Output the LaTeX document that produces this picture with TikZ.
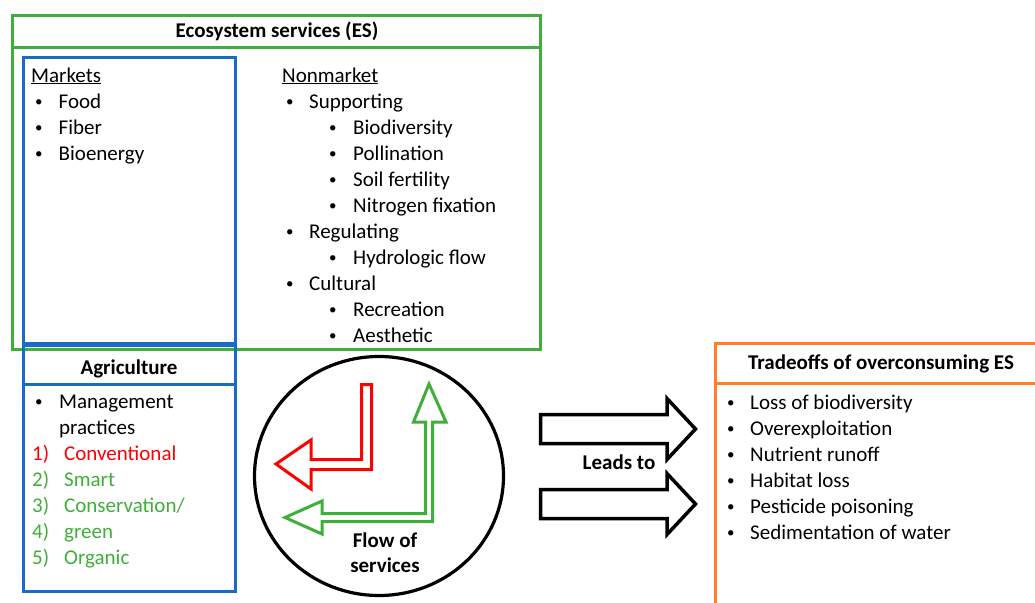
\documentclass[tikz,border=0pt]{standalone}
\usepackage{fontspec}
\setmainfont{Carlito}
\usetikzlibrary{shapes.geometric}

\definecolor{esgreen}{RGB}{64,174,58}
\definecolor{agblue}{RGB}{22,110,196}
\definecolor{tradeorange}{RGB}{255,127,39}
\definecolor{convred}{RGB}{255,0,0}

\begin{document}
\begin{tikzpicture}[x=1pt, y=-1pt,
    font=\fontsize{21}{26}\selectfont,
    txt/.style={anchor=base west, inner sep=0pt},
    bul/.style={anchor=base west, inner sep=0pt, font=\fontsize{15}{26}\selectfont, yshift=2pt},
    head/.style={anchor=base, inner sep=0pt, font=\fontsize{21}{26}\selectfont\bfseries},
    frame/.style={line width=3pt},
    flowarrow/.style={line width=3pt, line join=miter},
    bigarrow/.style={line width=3.5pt, line join=miter}]
	\useasboundingbox (0,0) rectangle (1035,602);
	\clip (0,0) rectangle (1035,602);

	% Frames
	\draw[frame, esgreen] (12,15.5) rectangle (540.5,349);
	\draw[frame, esgreen] (12,47.5) -- (540.5,47.5);
	\draw[frame, agblue] (23.5,58) rectangle (235,343);
	\draw[frame, agblue] (23.5,345.5) rectangle (235,591);
	\draw[frame, agblue] (23.5,384.5) -- (235,384.5);
	\draw[frame, tradeorange] (715.5,610) |- (1040,343.5);
	\draw[frame, tradeorange] (715.5,383.5) -- (1040,383.5);

	% Ecosystem services
	\node[head] (es) at (277,37.5) {Ecosystem services (ES)};
	\node[txt] (mk) at (31,82) {\underline{Markets}};
	\node[bul] (mkb1) at (35,108) {•};
	\node[txt] (mk1) at (58.5,108) {Food};
	\node[bul] (mkb2) at (35,134) {•};
	\node[txt] (mk2) at (58.5,134) {Fiber};
	\node[bul] (mkb3) at (35,160) {•};
	\node[txt] (mk3) at (58.5,160) {Bioenergy};

	\node[txt] (nm) at (282,82) {\underline{Nonmarket}};
	\node[bul] (nmb1) at (286,108) {•};
	\node[txt] (nm1) at (309,108) {Supporting};
	\node[bul] (nmb11) at (329,134) {•};
	\node[txt] (nm11) at (353,134) {Biodiversity};
	\node[bul] (nmb12) at (329,160) {•};
	\node[txt] (nm12) at (353,160) {Pollination};
	\node[bul] (nmb13) at (329,186) {•};
	\node[txt] (nm13) at (353,186) {Soil fertility};
	\node[bul] (nmb14) at (329,212) {•};
	\node[txt] (nm14) at (353,212) {Nitrogen fixation};
	\node[bul] (nmb2) at (286,238) {•};
	\node[txt] (nm2) at (309,238) {Regulating};
	\node[bul] (nmb21) at (329,264) {•};
	\node[txt] (nm21) at (353,264) {Hydrologic flow};
	\node[bul] (nmb3) at (286,290) {•};
	\node[txt] (nm3) at (309,290) {Cultural};
	\node[bul] (nmb31) at (329,316) {•};
	\node[txt] (nm31) at (353,316) {Recreation};
	\node[bul] (nmb32) at (329,342) {•};
	\node[txt] (nm32) at (353,342) {Aesthetic};

	% Agriculture
	\node[head] (ag) at (129,374) {Agriculture};
	\node[bul] (agb) at (35,408) {•};
	\node[txt] (ag0) at (59,408) {Management};
	\node[txt] (ag0b) at (59,434) {practices};
	\node[txt, text=convred] (agn1) at (32,460) {1)};
	\node[txt, text=convred] (ag1) at (64,460) {Conventional};
	\node[txt, text=esgreen] (agn2) at (32,486) {2)};
	\node[txt, text=esgreen] (ag2) at (64,486) {Smart};
	\node[txt, text=esgreen] (agn3) at (32,512) {3)};
	\node[txt, text=esgreen] (ag3) at (64,512) {Conservation/};
	\node[txt, text=esgreen] (agn4) at (32,538) {4)};
	\node[txt, text=esgreen] (ag4) at (64,538) {green};
	\node[txt, text=esgreen] (agn5) at (32,564) {5)};
	\node[txt, text=esgreen] (ag5) at (64,564) {Organic};

	% Flow of services
	\node[draw, ellipse, line width=3.2pt, minimum width=249, minimum height=239, inner sep=0pt] (flow) at (379,476) {};
	\draw[flowarrow, convred] (371.5,384.5) -- (371.5,469.5) -- (311,469.5) -- (311,489)
		-- (276,464) -- (311,440) -- (311,459.5) -- (361.5,459.5) -- (361.5,384.5) -- cycle;
	\draw[flowarrow, esgreen] (425.5,422) -- (413.5,422) -- (429,384) -- (446,422) -- (432.5,422)
		-- (432.5,521.5) -- (322,521.5) -- (322,534) -- (285,517.5) -- (322,501)
		-- (322,513.5) -- (425.5,513.5) -- cycle;
	\node[head] (flowa) at (385,547) {Flow of};
	\node[head] (flowb) at (385,572) {services};

	% Leads to
	\draw[bigarrow] (540.5,414.5) -- (667,414.5) -- (667,398.5) -- (695.5,429)
		-- (667,459.5) -- (667,443.5) -- (540.5,443.5) -- cycle;
	\draw[bigarrow] (540.5,489.5) -- (667,489.5) -- (667,473.5) -- (695.5,504)
		-- (667,534.5) -- (667,518.5) -- (540.5,518.5) -- cycle;
	\node[head] (leads) at (619,469) {Leads to};

	% Tradeoffs
	\node[head] (tr) at (881,369) {Tradeoffs of overconsuming ES};
	\node[bul] (trb1) at (727,409) {•};
	\node[txt] (tr1) at (750,409) {Loss of biodiversity};
	\node[bul] (trb2) at (727,435) {•};
	\node[txt] (tr2) at (750,435) {Overexploitation};
	\node[bul] (trb3) at (727,461) {•};
	\node[txt] (tr3) at (750,461) {Nutrient runoff};
	\node[bul] (trb4) at (727,487) {•};
	\node[txt] (tr4) at (750,487) {Habitat loss};
	\node[bul] (trb5) at (727,513) {•};
	\node[txt] (tr5) at (750,513) {Pesticide poisoning};
	\node[bul] (trb6) at (727,539) {•};
	\node[txt] (tr6) at (750,539) {Sedimentation of water};
\end{tikzpicture}
\end{document}
